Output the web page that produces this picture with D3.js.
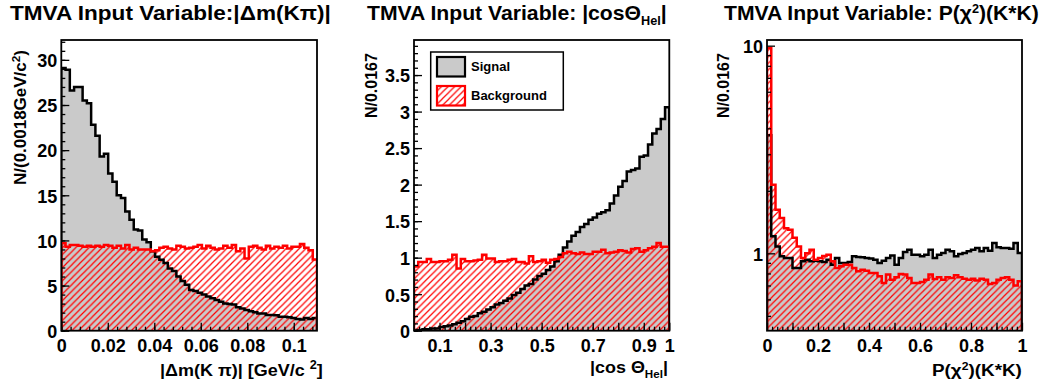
<!DOCTYPE html>
<html><head><meta charset="utf-8">
<script src="https://cdn.jsdelivr.net/npm/d3@7"></script>
<style>
html,body{margin:0;padding:0;background:#fff;}
text{font-family:'Liberation Sans',Arial,Helvetica,sans-serif;font-weight:bold;fill:#000;}
</style></head>
<body><svg id="c" width="1046" height="388"></svg>
<script>
// ---------- data ----------
const sig1 = [29.1,28.9,26.6,27.0,27.0,25.5,25.2,22.8,21.6,19.3,19.6,17.4,16.5,15.0,14.7,13.2,12.3,11.2,11.1,10.1,9.8,8.8,8.2,7.85,7.5,6.9,6.6,6.0,5.5,5.1,4.5,4.4,4.2,4.0,3.8,3.6,3.4,3.2,3.0,2.95,2.9,2.6,2.45,2.3,2.15,2.05,1.9,1.9,1.75,1.75,1.7,1.55,1.55,1.5,1.4,1.3,1.25,1.4,1.3,1.4];
const bkg1 = [9.7,9.3,9.5,9.5,9.4,9.3,9.4,9.3,9.4,9.3,9.5,9.4,9.2,9.4,9.1,9.5,9.0,9.2,9.0,9.0,9.0,8.8,8.9,9.2,9.3,9.1,9.0,9.4,9.3,9.1,9.2,9.3,9.5,9.1,9.4,9.2,9.0,9.1,9.4,9.2,9.5,8.8,9.1,8.0,9.3,9.4,9.2,9.0,9.4,9.1,9.3,9.2,9.4,9.1,9.3,9.3,9.6,9.2,8.9,7.9];
const sig2 = [0.01,0.01,0.02,0.02,0.03,0.03,0.05,0.06,0.07,0.09,0.11,0.13,0.16,0.19,0.20,0.24,0.26,0.29,0.32,0.36,0.38,0.41,0.44,0.49,0.52,0.57,0.62,0.64,0.70,0.75,0.78,0.83,0.88,0.95,1.04,1.14,1.22,1.30,1.35,1.42,1.46,1.52,1.55,1.60,1.62,1.65,1.74,1.85,1.97,2.05,2.18,2.20,2.22,2.38,2.40,2.55,2.70,2.76,2.90,3.06];
const bkg2 = [0.88,0.94,0.94,0.98,0.94,0.94,0.95,0.95,0.97,1.04,0.85,0.98,0.95,0.95,0.96,0.97,1.04,0.99,0.99,0.94,0.95,0.95,0.97,0.98,0.94,0.94,0.92,1.02,0.94,0.95,0.97,0.93,0.97,0.98,1.01,1.06,1.08,1.06,1.05,1.07,1.05,1.05,1.08,1.08,1.11,1.06,1.07,1.08,1.10,1.09,1.07,1.12,1.13,1.08,1.10,1.13,1.15,1.20,1.15,1.15];
const sig3 = [3.7,1.21,1.08,0.967,0.95,0.95,0.85,0.85,0.915,0.932,0.915,0.922,0.915,0.908,0.932,0.882,0.95,0.898,0.898,0.908,0.967,0.96,0.957,0.95,0.943,0.932,0.898,0.922,0.95,0.976,0.882,0.95,1.015,1.041,0.985,0.985,0.967,0.985,1.041,0.95,0.985,1.004,1.041,1.022,0.967,0.993,1.004,1.022,1.041,1.061,1.022,1.061,1.03,1.121,1.069,1.061,1.061,1.053,1.121,1.004];
const bkg3 = [9.75,2.14,1.62,1.48,1.32,1.30,1.19,1.08,0.95,1.0,1.04,0.93,0.95,0.97,0.985,0.915,0.85,0.866,0.88,0.88,0.85,0.819,0.834,0.825,0.804,0.804,0.775,0.72,0.79,0.746,0.766,0.795,0.79,0.76,0.72,0.72,0.728,0.746,0.79,0.753,0.766,0.746,0.766,0.76,0.784,0.766,0.755,0.746,0.755,0.739,0.755,0.746,0.712,0.72,0.746,0.76,0.766,0.746,0.70,0.733];

const xTicks1 = [0,0.02,0.04,0.06,0.08,0.1];
const xLabels1 = ["0","0.02","0.04","0.06","0.08","0.1"];
const yTicks1 = [0,5,10,15,20,25,30];
const xTicks2 = [0.1,0.2,0.3,0.4,0.5,0.6,0.7,0.8,0.9,1.0];
const xLabels2 = ["0.1","","0.3","","0.5","","0.7","","0.9","1"];
const yTicks2 = [0,0.5,1,1.5,2,2.5,3,3.5];
const yLabels2 = ["0","0.5","1","1.5","2","2.5","3","3.5"];
const xTicks3 = [0,0.1,0.2,0.3,0.4,0.5,0.6,0.7,0.8,0.9,1.0];
const xLabels3 = ["0","","0.2","","0.4","","0.6","","0.8","","1"];
const yTicks3 = [1,10];
const yMinor3 = [0.5,0.6,0.7,0.8,0.9,2,3,4,5,6,7,8,9];
const legendLabels = ["Signal","Background"];

// ---------- drawing ----------
const svg = d3.select("#c");
svg.append("rect").attr("width",1046).attr("height",388).attr("fill","#fff");
const defs = svg.append("defs");
const pat = defs.append("pattern").attr("id","hatch").attr("patternUnits","userSpaceOnUse")
  .attr("width",6.6).attr("height",6.6);
pat.append("path").attr("d","M0,6.6L6.6,0M-1,1L1,-1M5.6,7.6L7.6,5.6")
  .attr("stroke","#ff0000").attr("stroke-width",1.2);

const TOP=40, BOT=330.7;
const GRAY="#cacaca";

function fitText(t, target){
  const w = t.node().getBBox().width;
  return target / w;
}

function panel(o){
  const g = svg.append("g");
  const x = d3.scaleLinear().domain(o.xdom).range([o.left,o.right]);
  const y = (o.log ? d3.scaleLog() : d3.scaleLinear()).domain(o.ydom).range([BOT,TOP]);
  const cid = "clip"+o.id;
  defs.append("clipPath").attr("id",cid).append("rect")
    .attr("x",o.left).attr("y",TOP).attr("width",o.right-o.left).attr("height",BOT-TOP);
  const n = o.sig.length, bw = (o.hx[1]-o.hx[0])/n;
  const base = BOT+5;
  function step(vals){
    let p = `M${x(o.hx[0])},${base}`;
    vals.forEach((v,i)=>{ const yy = y(v);
      p += `L${x(o.hx[0]+i*bw)},${yy}L${x(o.hx[0]+(i+1)*bw)},${yy}`; });
    p += `L${x(o.hx[1])},${base}`;
    return p;
  }
  const h = g.append("g").attr("clip-path",`url(#${cid})`);
  h.append("path").attr("d",step(o.sig)+"Z").attr("fill",GRAY);
  h.append("path").attr("d",step(o.bkg)+"Z").attr("fill","url(#hatch)");
  h.append("path").attr("d",step(o.sig)).attr("fill","none").attr("stroke","#000").attr("stroke-width",2.5);
  h.append("path").attr("d",step(o.bkg)).attr("fill","none").attr("stroke","#ff0000").attr("stroke-width",2.5);

  // axes (ticks inside frame)
  const ax = g.append("g").attr("transform",`translate(0,${BOT})`)
    .call(d3.axisBottom(x).tickValues(o.xTicks).tickSizeInner(-8).tickSizeOuter(0).tickPadding(9)
      .tickFormat((d,i)=>o.xLabels[i]));
  const axm = g.append("g").attr("transform",`translate(0,${BOT})`)
    .call(d3.axisBottom(x).tickValues(o.xMinor).tickSizeInner(-4).tickSizeOuter(0).tickFormat(""));
  const ay = g.append("g").attr("transform",`translate(${o.left},0)`)
    .call(d3.axisLeft(y).tickValues(o.yTicks).tickSizeInner(-8).tickSizeOuter(0).tickPadding(4)
      .tickFormat((d,i)=>o.yLabels[i]));
  const aym = g.append("g").attr("transform",`translate(${o.left},0)`)
    .call(d3.axisLeft(y).tickValues(o.yMinor).tickSizeInner(-4).tickSizeOuter(0).tickFormat(""));
  [ax,axm,ay,aym].forEach(a=>{ a.select(".domain").remove();
    a.selectAll("line").attr("stroke","#000").attr("stroke-width",1.3);
    a.selectAll("text").attr("font-size",18).style("font-family","'Liberation Sans',Arial,sans-serif")
      .style("font-weight","bold").attr("fill","#000"); });
  ay.selectAll("text").attr("dy","0.38em");

  // frame
  g.append("rect").attr("x",o.left).attr("y",TOP).attr("width",o.right-o.left).attr("height",BOT-TOP)
    .attr("fill","none").attr("stroke","#000").attr("stroke-width",1.8);

  // title
  const tt = svg.append("text").attr("font-size",20);
  o.title(tt);
  const s = fitText(tt, o.tspan[1]-o.tspan[0]);
  tt.attr("transform",`translate(${o.tspan[0]},20) scale(${s},1)`);
  // x title
  const xt = svg.append("text").attr("font-size",17);
  o.xtitle(xt);
  const sx = fitText(xt, o.xtspan[1]-o.xtspan[0]);
  xt.attr("transform",`translate(${o.xtspan[0]},${o.xtY}) scale(${sx},1)`);
  // y title
  const yt = svg.append("text").attr("font-size",16);
  o.ytitle(yt);
  const sy = fitText(yt, o.ytspan[1]-o.ytspan[0]);
  yt.attr("transform",`translate(${o.ytX},${o.ytspan[1]}) rotate(-90) scale(${sy},1)`);
  return {x,y,g};
}

panel({id:1, left:61.3, right:317, xdom:[0,0.11], ydom:[0,32.2], hx:[0,0.11],
  sig:sig1, bkg:bkg1,
  xTicks:xTicks1, xLabels:xLabels1, xMinor:d3.range(0,28).map(i=>i*0.004),
  yTicks:yTicks1, yLabels:yTicks1.map(String), yMinor:d3.range(0,33),
  tspan:[10,331],
  title:t=>{t.append("tspan").text("TMVA Input Variable:|\u0394m(K\u03c0)|");},
  xtspan:[160,323], xtY:376,
  xtitle:t=>{t.append("tspan").text("|\u0394m(K \u03c0)| [GeV/c ");
    t.append("tspan").attr("dy",-7).attr("font-size",12).text("2");
    t.append("tspan").attr("dy",7).text("]");},
  ytspan:[50,185], ytX:25.5,
  ytitle:t=>{t.append("tspan").text("N/(0.0018GeV/c");
    t.append("tspan").attr("dy",-6).attr("font-size",11).text("2");
    t.append("tspan").attr("dy",6).text(")");}
});

panel({id:2, left:414, right:669.3, xdom:[0,1], ydom:[0,3.98], hx:[0,1],
  sig:sig2, bkg:bkg2,
  xTicks:xTicks2, xLabels:xLabels2, xMinor:d3.range(1,50).map(i=>i*0.02),
  yTicks:yTicks2, yLabels:yLabels2, yMinor:d3.range(0,40).map(i=>i*0.1),
  tspan:[367,667],
  title:t=>{t.append("tspan").text("TMVA Input Variable: |cos\u0398");
    t.append("tspan").attr("dy",5).attr("font-size",12).text("Hel");
    t.append("tspan").attr("dy",-5).text("|");},
  xtspan:[590,668], xtY:373,
  xtitle:t=>{t.append("tspan").text("|cos \u0398");
    t.append("tspan").attr("dy",5).attr("font-size",11).text("Hel");
    t.append("tspan").attr("dy",-5).text("|");},
  ytspan:[53,118], ytX:377,
  ytitle:t=>{t.append("tspan").text("N/0.0167");}
});

panel({id:3, left:767, right:1022, xdom:[0,1], ydom:[0.424,10.65], log:true, hx:[0,1],
  sig:sig3, bkg:bkg3,
  xTicks:xTicks3, xLabels:xLabels3, xMinor:d3.range(1,50).map(i=>i*0.02),
  yTicks:yTicks3, yLabels:["1","10"], yMinor:yMinor3,
  tspan:[724,1039],
  title:t=>{t.append("tspan").text("TMVA Input Variable: P(\u03c7");
    t.append("tspan").attr("dy",-7).attr("font-size",12).text("2");
    t.append("tspan").attr("dy",7).text(")(K*K)");},
  xtspan:[932,1022], xtY:376,
  xtitle:t=>{t.append("tspan").text("P(\u03c7");
    t.append("tspan").attr("dy",-6).attr("font-size",11).text("2");
    t.append("tspan").attr("dy",6).text(")(K*K)");},
  ytspan:[53,118], ytX:729,
  ytitle:t=>{t.append("tspan").text("N/0.0167");}
});

// legend (panel 2)
const lg = svg.append("g");
lg.append("rect").attr("x",430.7).attr("y",52).attr("width",132.6).attr("height",58)
  .attr("fill","#fff").attr("stroke","#000").attr("stroke-width",1.5);
lg.append("rect").attr("x",437).attr("y",57).attr("width",28).attr("height",19.5)
  .attr("fill",GRAY).attr("stroke","#000").attr("stroke-width",2.2);
lg.append("rect").attr("x",437).attr("y",86).attr("width",28).attr("height",19.5)
  .attr("fill","url(#hatch)").attr("stroke","#ff0000").attr("stroke-width",2.2);
lg.append("text").attr("x",471).attr("y",71).attr("font-size",13).text(legendLabels[0]);
lg.append("text").attr("x",471).attr("y",99.5).attr("font-size",13).text(legendLabels[1]);
</script></body></html>
